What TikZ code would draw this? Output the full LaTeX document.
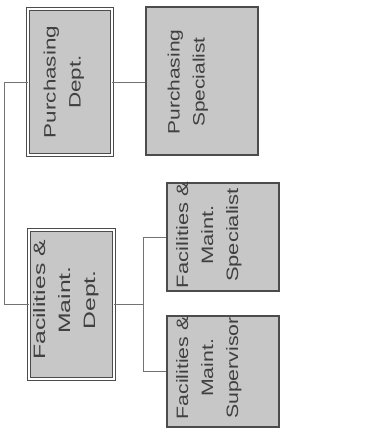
\documentclass[tikz,border=0pt]{standalone}
\usepackage{fontspec}
\usepackage{graphicx}
\setmainfont{Liberation Sans}
\definecolor{inkc}{gray}{0.3}
\definecolor{textc}{gray}{0.25}
\definecolor{linec}{gray}{0.45}
\definecolor{boxfill}{gray}{0.78}
\begin{document}
\begin{tikzpicture}[x=1pt,y=-1pt,
  box/.style={draw=inkc, fill=boxfill, line width=1.1pt, inner sep=0pt, rectangle},
  dbox/.style={box, double=white, double distance=1.6pt, line width=0.9pt},
  txt/.style={rotate=90, inner sep=0pt, text=textc, font=\fontsize{16.5}{25}\selectfont},
  conn/.style={draw=linec, line width=0.9pt}]
\useasboundingbox (0,0) rectangle (377,433);
% boxes
\node[dbox, minimum width=84pt, minimum height=146pt] (A) at (70,82) {};
\node[box, minimum width=112pt, minimum height=148pt] (B) at (202,81) {};
\node[dbox, minimum width=85pt, minimum height=149pt] (C) at (71.5,304.5) {};
\node[box, minimum width=112pt, minimum height=108pt] (D) at (223,237) {};
\node[box, minimum width=112pt, minimum height=111pt] (E) at (223,371.5) {};
% texts
\node[txt] (tA) at (63,82) {\scalebox{1.36}[1]{\begin{tabular}{@{}c@{}}Purchasing\\Dept.\end{tabular}}};
\node[txt] (tB) at (187,82) {\scalebox{1.27}[1]{\begin{tabular}{@{}c@{}}Purchasing\\Specialist\end{tabular}}};
\node[txt] (tC) at (65,300) {\scalebox{1.5}[1]{\begin{tabular}{@{}c@{}}Facilities \&\\Maint.\\Dept.\end{tabular}}};
\node[txt] (tD) at (208,235) {\scalebox{1.33}[1]{\begin{tabular}{@{}c@{}}Facilities \&\\Maint.\\Specialist\end{tabular}}};
\node[txt] (tE) at (208,368) {\scalebox{1.29}[1]{\begin{tabular}{@{}c@{}}Facilities \&\\Maint.\\Supervisor\end{tabular}}};
% connectors
\coordinate (j1) at (4,82);
\coordinate (j2) at (143,304.5);
\draw[conn] (A.east) -- (A.east -| B.west);
\draw[conn] (A.west) -- (j1) |- (C.west);
\draw[conn] (C.east) -- (j2);
\draw[conn] (j2) |- (D.west);
\draw[conn] (j2) |- (E.west);
\end{tikzpicture}
\end{document}
